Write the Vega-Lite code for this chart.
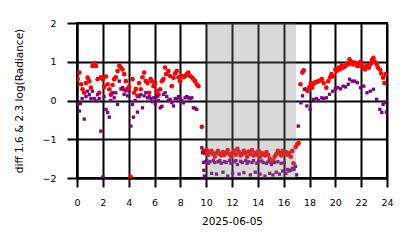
{
  "$schema": "https://vega.github.io/schema/vega-lite/v6.json",
  "autosize": "none",
  "width": 310,
  "height": 155,
  "padding": {"left": 77, "top": 23, "right": 27, "bottom": 70},
  "background": "white",
  "config": {
    "font": "DejaVu Sans",
    "view": {"stroke": "black", "strokeWidth": 2},
    "axis": {
      "zindex": 1,
      "grid": true,
      "gridColor": "black",
      "gridWidth": 2,
      "gridOpacity": 1,
      "domainColor": "black",
      "domainWidth": 2,
      "tickColor": "black",
      "tickWidth": 2,
      "labelColor": "black",
      "labelFontSize": 9.5,
      "labelOverlap": false,
      "titleColor": "black",
      "titleFontSize": 10.5,
      "titleFontWeight": "normal"
    }
  },
  "datasets": {
    "band": [{"hour": 10, "hour_end": 16.95}],
    "pts": [
      {"hour": 0.05, "value": 0.55, "series": "r"},
      {"hour": 0.18, "value": 0.72, "series": "r"},
      {"hour": 0.31, "value": 0.42, "series": "r"},
      {"hour": 0.43, "value": 0.29, "series": "r"},
      {"hour": 0.55, "value": 0.2, "series": "r"},
      {"hour": 0.7, "value": 0.45, "series": "r"},
      {"hour": 0.82, "value": 0.59, "series": "r"},
      {"hour": 0.95, "value": 0.5, "series": "r"},
      {"hour": 1.08, "value": 0.33, "series": "r"},
      {"hour": 1.2, "value": 0.89, "series": "r"},
      {"hour": 1.33, "value": 0.95, "series": "r"},
      {"hour": 1.47, "value": 0.89, "series": "r"},
      {"hour": 1.6, "value": 0.55, "series": "r"},
      {"hour": 1.72, "value": 0.2, "series": "r"},
      {"hour": 1.85, "value": 0.6, "series": "r"},
      {"hour": 2.0, "value": 0.55, "series": "r"},
      {"hour": 2.1, "value": 0.35, "series": "r"},
      {"hour": 2.24, "value": 0.62, "series": "r"},
      {"hour": 2.37, "value": 0.42, "series": "r"},
      {"hour": 2.5, "value": 0.29, "series": "r"},
      {"hour": 2.62, "value": 0.15, "series": "r"},
      {"hour": 2.75, "value": 0.4, "series": "r"},
      {"hour": 2.88, "value": 0.55, "series": "r"},
      {"hour": 3.0, "value": 0.6, "series": "r"},
      {"hour": 3.14, "value": 0.76, "series": "r"},
      {"hour": 3.27, "value": 0.9, "series": "r"},
      {"hour": 3.4, "value": 0.85, "series": "r"},
      {"hour": 3.52, "value": 0.8, "series": "r"},
      {"hour": 3.56, "value": 0.29, "series": "r"},
      {"hour": 3.65, "value": 0.68, "series": "r"},
      {"hour": 3.78, "value": 0.5, "series": "r"},
      {"hour": 3.9, "value": 0.3, "series": "r"},
      {"hour": 4.04, "value": 0.35, "series": "r"},
      {"hour": 4.15, "value": -1.97, "series": "r"},
      {"hour": 4.3, "value": 0.55, "series": "r"},
      {"hour": 4.43, "value": 0.2, "series": "r"},
      {"hour": 4.55, "value": 0.3, "series": "r"},
      {"hour": 4.68, "value": 0.12, "series": "r"},
      {"hour": 4.8, "value": 0.45, "series": "r"},
      {"hour": 4.94, "value": 0.29, "series": "r"},
      {"hour": 5.07, "value": 0.6, "series": "r"},
      {"hour": 5.2, "value": 0.72, "series": "r"},
      {"hour": 5.33, "value": 0.5, "series": "r"},
      {"hour": 5.46, "value": 0.45, "series": "r"},
      {"hour": 5.59, "value": 0.2, "series": "r"},
      {"hour": 5.7, "value": 0.55, "series": "r"},
      {"hour": 5.8, "value": 0.5, "series": "r"},
      {"hour": 5.92, "value": 0.37, "series": "r"},
      {"hour": 6.05, "value": 0.45, "series": "r"},
      {"hour": 6.18, "value": 0.24, "series": "r"},
      {"hour": 6.31, "value": 0.15, "series": "r"},
      {"hour": 6.44, "value": 0.29, "series": "r"},
      {"hour": 6.57, "value": 0.5, "series": "r"},
      {"hour": 6.69, "value": 0.55, "series": "r"},
      {"hour": 6.82, "value": 0.85, "series": "r"},
      {"hour": 6.9, "value": 0.68, "series": "r"},
      {"hour": 7.08, "value": 0.76, "series": "r"},
      {"hour": 7.21, "value": 0.63, "series": "r"},
      {"hour": 7.34, "value": 0.37, "series": "r"},
      {"hour": 7.47, "value": 0.59, "series": "r"},
      {"hour": 7.6, "value": 0.7, "series": "r"},
      {"hour": 7.73, "value": 0.76, "series": "r"},
      {"hour": 7.86, "value": 0.6, "series": "r"},
      {"hour": 7.98, "value": 0.5, "series": "r"},
      {"hour": 8.11, "value": 0.63, "series": "r"},
      {"hour": 8.24, "value": 0.6, "series": "r"},
      {"hour": 8.37, "value": 0.63, "series": "r"},
      {"hour": 8.5, "value": 0.68, "series": "r"},
      {"hour": 8.62, "value": 0.72, "series": "r"},
      {"hour": 8.76, "value": 0.63, "series": "r"},
      {"hour": 8.89, "value": 0.6, "series": "r"},
      {"hour": 9.01, "value": 0.55, "series": "r"},
      {"hour": 9.14, "value": 0.5, "series": "r"},
      {"hour": 9.27, "value": 0.42, "series": "r"},
      {"hour": 9.4, "value": 0.37, "series": "r"},
      {"hour": 9.66, "value": -0.68, "series": "r"},
      {"hour": 9.8, "value": -1.3, "series": "r"},
      {"hour": 9.92, "value": -1.35, "series": "r"},
      {"hour": 10.05, "value": -1.28, "series": "r"},
      {"hour": 10.17, "value": -1.4, "series": "r"},
      {"hour": 10.3, "value": -1.33, "series": "r"},
      {"hour": 10.42, "value": -1.3, "series": "r"},
      {"hour": 10.55, "value": -1.38, "series": "r"},
      {"hour": 10.67, "value": -1.45, "series": "r"},
      {"hour": 10.8, "value": -1.35, "series": "r"},
      {"hour": 10.92, "value": -1.3, "series": "r"},
      {"hour": 11.05, "value": -1.38, "series": "r"},
      {"hour": 11.17, "value": -1.42, "series": "r"},
      {"hour": 11.3, "value": -1.33, "series": "r"},
      {"hour": 11.42, "value": -1.4, "series": "r"},
      {"hour": 11.55, "value": -1.35, "series": "r"},
      {"hour": 11.67, "value": -1.28, "series": "r"},
      {"hour": 11.8, "value": -1.38, "series": "r"},
      {"hour": 11.92, "value": -1.45, "series": "r"},
      {"hour": 12.05, "value": -1.35, "series": "r"},
      {"hour": 12.17, "value": -1.3, "series": "r"},
      {"hour": 12.3, "value": -1.4, "series": "r"},
      {"hour": 12.42, "value": -1.25, "series": "r"},
      {"hour": 12.55, "value": -1.33, "series": "r"},
      {"hour": 12.67, "value": -1.42, "series": "r"},
      {"hour": 12.8, "value": -1.38, "series": "r"},
      {"hour": 12.92, "value": -1.3, "series": "r"},
      {"hour": 13.05, "value": -1.35, "series": "r"},
      {"hour": 13.17, "value": -1.45, "series": "r"},
      {"hour": 13.3, "value": -1.32, "series": "r"},
      {"hour": 13.42, "value": -1.38, "series": "r"},
      {"hour": 13.55, "value": -1.28, "series": "r"},
      {"hour": 13.67, "value": -1.42, "series": "r"},
      {"hour": 13.8, "value": -1.35, "series": "r"},
      {"hour": 13.92, "value": -1.4, "series": "r"},
      {"hour": 14.05, "value": -1.3, "series": "r"},
      {"hour": 14.17, "value": -1.45, "series": "r"},
      {"hour": 14.3, "value": -1.35, "series": "r"},
      {"hour": 14.42, "value": -1.38, "series": "r"},
      {"hour": 14.55, "value": -1.42, "series": "r"},
      {"hour": 14.67, "value": -1.33, "series": "r"},
      {"hour": 14.8, "value": -1.4, "series": "r"},
      {"hour": 14.92, "value": -1.5, "series": "r"},
      {"hour": 15.05, "value": -1.6, "series": "r"},
      {"hour": 15.17, "value": -1.55, "series": "r"},
      {"hour": 15.3, "value": -1.45, "series": "r"},
      {"hour": 15.42, "value": -1.38, "series": "r"},
      {"hour": 15.55, "value": -1.3, "series": "r"},
      {"hour": 15.67, "value": -1.35, "series": "r"},
      {"hour": 15.8, "value": -1.42, "series": "r"},
      {"hour": 15.92, "value": -1.3, "series": "r"},
      {"hour": 16.05, "value": -1.38, "series": "r"},
      {"hour": 16.17, "value": -1.33, "series": "r"},
      {"hour": 16.3, "value": -1.4, "series": "r"},
      {"hour": 16.42, "value": -1.35, "series": "r"},
      {"hour": 16.55, "value": -1.45, "series": "r"},
      {"hour": 16.67, "value": -1.3, "series": "r"},
      {"hour": 16.76, "value": -1.62, "series": "r"},
      {"hour": 16.92, "value": -1.2, "series": "r"},
      {"hour": 17.05, "value": -1.13, "series": "r"},
      {"hour": 17.15, "value": -1.1, "series": "r"},
      {"hour": 17.3, "value": 0.42, "series": "r"},
      {"hour": 17.45, "value": 0.72, "series": "r"},
      {"hour": 17.55, "value": 0.78, "series": "r"},
      {"hour": 17.7, "value": 0.29, "series": "r"},
      {"hour": 17.85, "value": 0.25, "series": "r"},
      {"hour": 18.0, "value": 0.35, "series": "r"},
      {"hour": 18.1, "value": 0.45, "series": "r"},
      {"hour": 18.2, "value": 0.33, "series": "r"},
      {"hour": 18.3, "value": 0.42, "series": "r"},
      {"hour": 18.4, "value": 0.46, "series": "r"},
      {"hour": 18.55, "value": 0.48, "series": "r"},
      {"hour": 18.7, "value": 0.5, "series": "r"},
      {"hour": 18.85, "value": 0.52, "series": "r"},
      {"hour": 18.95, "value": 0.55, "series": "r"},
      {"hour": 19.1, "value": 0.45, "series": "r"},
      {"hour": 19.3, "value": 0.33, "series": "r"},
      {"hour": 19.45, "value": 0.5, "series": "r"},
      {"hour": 19.6, "value": 0.6, "series": "r"},
      {"hour": 19.7, "value": 0.68, "series": "r"},
      {"hour": 19.85, "value": 0.62, "series": "r"},
      {"hour": 20.0, "value": 0.8, "series": "r"},
      {"hour": 20.1, "value": 0.76, "series": "r"},
      {"hour": 20.25, "value": 0.85, "series": "r"},
      {"hour": 20.35, "value": 0.8, "series": "r"},
      {"hour": 20.5, "value": 0.9, "series": "r"},
      {"hour": 20.6, "value": 0.85, "series": "r"},
      {"hour": 20.75, "value": 0.88, "series": "r"},
      {"hour": 20.9, "value": 0.95, "series": "r"},
      {"hour": 21.0, "value": 0.93, "series": "r"},
      {"hour": 21.1, "value": 1.06, "series": "r"},
      {"hour": 21.25, "value": 1.0, "series": "r"},
      {"hour": 21.35, "value": 0.93, "series": "r"},
      {"hour": 21.5, "value": 0.98, "series": "r"},
      {"hour": 21.6, "value": 0.95, "series": "r"},
      {"hour": 21.7, "value": 0.89, "series": "r"},
      {"hour": 21.85, "value": 0.9, "series": "r"},
      {"hour": 21.95, "value": 1.0, "series": "r"},
      {"hour": 22.05, "value": 0.93, "series": "r"},
      {"hour": 22.2, "value": 0.85, "series": "r"},
      {"hour": 22.3, "value": 0.8, "series": "r"},
      {"hour": 22.45, "value": 0.9, "series": "r"},
      {"hour": 22.6, "value": 0.85, "series": "r"},
      {"hour": 22.75, "value": 0.95, "series": "r"},
      {"hour": 22.85, "value": 1.05, "series": "r"},
      {"hour": 22.95, "value": 1.1, "series": "r"},
      {"hour": 23.05, "value": 1.0, "series": "r"},
      {"hour": 23.2, "value": 0.93, "series": "r"},
      {"hour": 23.3, "value": 0.85, "series": "r"},
      {"hour": 23.45, "value": 0.8, "series": "r"},
      {"hour": 23.55, "value": 0.7, "series": "r"},
      {"hour": 23.7, "value": 0.59, "series": "r"},
      {"hour": 23.8, "value": 0.45, "series": "r"},
      {"hour": 23.9, "value": 0.68, "series": "r"},
      {"hour": 0.05, "value": -0.1, "series": "p"},
      {"hour": 0.18, "value": -0.27, "series": "p"},
      {"hour": 0.26, "value": -0.08, "series": "p"},
      {"hour": 0.4, "value": 0.05, "series": "p"},
      {"hour": 0.56, "value": -0.48, "series": "p"},
      {"hour": 0.7, "value": 0.1, "series": "p"},
      {"hour": 0.82, "value": 0.24, "series": "p"},
      {"hour": 0.95, "value": 0.15, "series": "p"},
      {"hour": 1.08, "value": 0.05, "series": "p"},
      {"hour": 1.2, "value": 0.24, "series": "p"},
      {"hour": 1.33, "value": 0.05, "series": "p"},
      {"hour": 1.47, "value": -0.01, "series": "p"},
      {"hour": 1.6, "value": 0.15, "series": "p"},
      {"hour": 1.72, "value": 0.05, "series": "p"},
      {"hour": 1.85, "value": -0.79, "series": "p"},
      {"hour": 2.0, "value": -1.97, "series": "p"},
      {"hour": 2.1, "value": 0.1, "series": "p"},
      {"hour": 2.24, "value": -0.23, "series": "p"},
      {"hour": 2.37, "value": -0.31, "series": "p"},
      {"hour": 2.5, "value": -0.43, "series": "p"},
      {"hour": 2.62, "value": 0.0, "series": "p"},
      {"hour": 2.75, "value": 0.2, "series": "p"},
      {"hour": 2.88, "value": 0.07, "series": "p"},
      {"hour": 3.0, "value": 0.2, "series": "p"},
      {"hour": 3.14, "value": -0.1, "series": "p"},
      {"hour": 3.27, "value": 0.5, "series": "p"},
      {"hour": 3.4, "value": 0.3, "series": "p"},
      {"hour": 3.52, "value": 0.33, "series": "p"},
      {"hour": 3.65, "value": 0.16, "series": "p"},
      {"hour": 3.78, "value": 0.25, "series": "p"},
      {"hour": 3.91, "value": 0.12, "series": "p"},
      {"hour": 4.04, "value": 0.24, "series": "p"},
      {"hour": 4.17, "value": -0.66, "series": "p"},
      {"hour": 4.3, "value": -0.1, "series": "p"},
      {"hour": 4.37, "value": -0.43, "series": "p"},
      {"hour": 4.5, "value": 0.0, "series": "p"},
      {"hour": 4.68, "value": -0.3, "series": "p"},
      {"hour": 4.8, "value": 0.1, "series": "p"},
      {"hour": 4.94, "value": 0.15, "series": "p"},
      {"hour": 5.07, "value": -0.19, "series": "p"},
      {"hour": 5.2, "value": 0.12, "series": "p"},
      {"hour": 5.33, "value": 0.2, "series": "p"},
      {"hour": 5.46, "value": 0.07, "series": "p"},
      {"hour": 5.59, "value": 0.1, "series": "p"},
      {"hour": 5.72, "value": 0.05, "series": "p"},
      {"hour": 5.84, "value": -0.03, "series": "p"},
      {"hour": 5.95, "value": 0.07, "series": "p"},
      {"hour": 6.07, "value": -0.1, "series": "p"},
      {"hour": 6.2, "value": 0.1, "series": "p"},
      {"hour": 6.31, "value": 0.0, "series": "p"},
      {"hour": 6.44, "value": -0.19, "series": "p"},
      {"hour": 6.57, "value": -0.15, "series": "p"},
      {"hour": 6.69, "value": 0.16, "series": "p"},
      {"hour": 6.82, "value": 0.2, "series": "p"},
      {"hour": 6.95, "value": 0.1, "series": "p"},
      {"hour": 7.08, "value": 0.0, "series": "p"},
      {"hour": 7.21, "value": 0.03, "series": "p"},
      {"hour": 7.34, "value": -0.05, "series": "p"},
      {"hour": 7.47, "value": -0.14, "series": "p"},
      {"hour": 7.6, "value": 0.05, "series": "p"},
      {"hour": 7.73, "value": 0.05, "series": "p"},
      {"hour": 7.86, "value": 0.1, "series": "p"},
      {"hour": 7.98, "value": 0.05, "series": "p"},
      {"hour": 8.11, "value": 0.0, "series": "p"},
      {"hour": 8.24, "value": -0.06, "series": "p"},
      {"hour": 8.37, "value": 0.07, "series": "p"},
      {"hour": 8.5, "value": 0.1, "series": "p"},
      {"hour": 8.62, "value": 0.07, "series": "p"},
      {"hour": 8.76, "value": 0.05, "series": "p"},
      {"hour": 8.89, "value": 0.07, "series": "p"},
      {"hour": 9.01, "value": -0.19, "series": "p"},
      {"hour": 9.14, "value": -0.2, "series": "p"},
      {"hour": 9.27, "value": -0.23, "series": "p"},
      {"hour": 9.66, "value": -1.22, "series": "p"},
      {"hour": 9.72, "value": -1.35, "series": "p"},
      {"hour": 9.79, "value": -1.6, "series": "p"},
      {"hour": 9.82, "value": -1.8, "series": "p"},
      {"hour": 9.86, "value": -1.95, "series": "p"},
      {"hour": 9.95, "value": -1.58, "series": "p"},
      {"hour": 10.05, "value": -1.55, "series": "p"},
      {"hour": 10.17, "value": -1.62, "series": "p"},
      {"hour": 10.3, "value": -1.58, "series": "p"},
      {"hour": 10.42, "value": -1.88, "series": "p"},
      {"hour": 10.55, "value": -1.55, "series": "p"},
      {"hour": 10.67, "value": -1.6, "series": "p"},
      {"hour": 10.8, "value": -1.9, "series": "p"},
      {"hour": 10.92, "value": -1.58, "series": "p"},
      {"hour": 11.05, "value": -1.55, "series": "p"},
      {"hour": 11.17, "value": -1.62, "series": "p"},
      {"hour": 11.3, "value": -1.85, "series": "p"},
      {"hour": 11.42, "value": -1.58, "series": "p"},
      {"hour": 11.55, "value": -1.6, "series": "p"},
      {"hour": 11.67, "value": -1.95, "series": "p"},
      {"hour": 11.8, "value": -1.55, "series": "p"},
      {"hour": 11.92, "value": -1.62, "series": "p"},
      {"hour": 12.05, "value": -1.88, "series": "p"},
      {"hour": 12.17, "value": -1.58, "series": "p"},
      {"hour": 12.3, "value": -1.55, "series": "p"},
      {"hour": 12.42, "value": -1.65, "series": "p"},
      {"hour": 12.55, "value": -1.9, "series": "p"},
      {"hour": 12.67, "value": -1.57, "series": "p"},
      {"hour": 12.8, "value": -1.6, "series": "p"},
      {"hour": 12.92, "value": -1.86, "series": "p"},
      {"hour": 13.05, "value": -1.55, "series": "p"},
      {"hour": 13.17, "value": -1.62, "series": "p"},
      {"hour": 13.3, "value": -1.58, "series": "p"},
      {"hour": 13.42, "value": -1.92, "series": "p"},
      {"hour": 13.55, "value": -1.6, "series": "p"},
      {"hour": 13.67, "value": -1.55, "series": "p"},
      {"hour": 13.8, "value": -1.85, "series": "p"},
      {"hour": 13.92, "value": -1.62, "series": "p"},
      {"hour": 14.05, "value": -1.58, "series": "p"},
      {"hour": 14.17, "value": -1.9, "series": "p"},
      {"hour": 14.3, "value": -1.56, "series": "p"},
      {"hour": 14.42, "value": -1.6, "series": "p"},
      {"hour": 14.55, "value": -1.95, "series": "p"},
      {"hour": 14.67, "value": -1.62, "series": "p"},
      {"hour": 14.8, "value": -1.58, "series": "p"},
      {"hour": 14.92, "value": -1.88, "series": "p"},
      {"hour": 15.05, "value": -1.65, "series": "p"},
      {"hour": 15.17, "value": -1.92, "series": "p"},
      {"hour": 15.3, "value": -1.6, "series": "p"},
      {"hour": 15.42, "value": -1.85, "series": "p"},
      {"hour": 15.55, "value": -1.58, "series": "p"},
      {"hour": 15.67, "value": -1.9, "series": "p"},
      {"hour": 15.8, "value": -1.62, "series": "p"},
      {"hour": 15.92, "value": -1.82, "series": "p"},
      {"hour": 16.05, "value": -1.6, "series": "p"},
      {"hour": 16.17, "value": -1.88, "series": "p"},
      {"hour": 16.3, "value": -1.78, "series": "p"},
      {"hour": 16.42, "value": -1.82, "series": "p"},
      {"hour": 16.55, "value": -1.8, "series": "p"},
      {"hour": 16.67, "value": -1.75, "series": "p"},
      {"hour": 16.8, "value": -1.78, "series": "p"},
      {"hour": 16.9, "value": -1.7, "series": "p"},
      {"hour": 17.0, "value": -1.92, "series": "p"},
      {"hour": 17.13, "value": -0.66, "series": "p"},
      {"hour": 17.33, "value": -0.06, "series": "p"},
      {"hour": 17.46, "value": 0.12, "series": "p"},
      {"hour": 17.6, "value": 0.29, "series": "p"},
      {"hour": 17.8, "value": -0.14, "series": "p"},
      {"hour": 18.05, "value": -0.23, "series": "p"},
      {"hour": 18.3, "value": 0.03, "series": "p"},
      {"hour": 18.55, "value": 0.05, "series": "p"},
      {"hour": 18.7, "value": 0.0, "series": "p"},
      {"hour": 18.95, "value": 0.07, "series": "p"},
      {"hour": 19.1, "value": 0.05, "series": "p"},
      {"hour": 19.3, "value": 0.07, "series": "p"},
      {"hour": 19.55, "value": 0.16, "series": "p"},
      {"hour": 19.8, "value": 0.24, "series": "p"},
      {"hour": 20.0, "value": 0.3, "series": "p"},
      {"hour": 20.2, "value": 0.33, "series": "p"},
      {"hour": 20.4, "value": 0.3, "series": "p"},
      {"hour": 20.6, "value": 0.37, "series": "p"},
      {"hour": 20.8, "value": 0.35, "series": "p"},
      {"hour": 21.0, "value": 0.42, "series": "p"},
      {"hour": 21.1, "value": 0.55, "series": "p"},
      {"hour": 21.3, "value": 0.5, "series": "p"},
      {"hour": 21.5, "value": 0.5, "series": "p"},
      {"hour": 21.7, "value": 0.46, "series": "p"},
      {"hour": 21.95, "value": 0.33, "series": "p"},
      {"hour": 22.2, "value": 0.37, "series": "p"},
      {"hour": 22.45, "value": 0.2, "series": "p"},
      {"hour": 22.7, "value": 0.24, "series": "p"},
      {"hour": 22.95, "value": 0.29, "series": "p"},
      {"hour": 23.2, "value": 0.03, "series": "p"},
      {"hour": 23.45, "value": -0.23, "series": "p"},
      {"hour": 23.6, "value": -0.31, "series": "p"},
      {"hour": 23.7, "value": -0.1, "series": "p"},
      {"hour": 23.85, "value": -0.05, "series": "p"},
      {"hour": 23.95, "value": -0.3, "series": "p"}
    ]
  },
  "encoding": {
    "x": {"field": "hour", "type": "quantitative", "scale": {"domain": [0, 24], "nice": false, "zero": false}, "axis": {"values": [0, 2, 4, 6, 8, 10, 12, 14, 16, 18, 20, 22, 24], "title": "2025-06-05", "tickSize": 9, "labelPadding": 10, "titlePadding": 10, "labelFlush": false}},
    "y": {"field": "value", "type": "quantitative", "scale": {"domain": [-2, 2], "nice": false}, "axis": {"values": [-2, -1, 0, 1, 2], "title": "diff 1.6 & 2.3  log(Radiance)", "tickSize": 10, "labelPadding": 11, "titlePadding": 17, "labelFlush": false}}
  },
  "layer": [
    {
      "data": {"name": "pts"},
      "transform": [{"filter": "datum.series === 'r'"}],
      "mark": {"type": "point", "shape": "circle", "filled": true, "color": "#ff0000", "opacity": 1, "size": 22, "clip": true}
    },
    {
      "data": {"name": "pts"},
      "transform": [{"filter": "datum.series === 'p'"}],
      "mark": {"type": "point", "shape": "square", "filled": true, "color": "#800080", "opacity": 1, "size": 11, "clip": true}
    },
    {
      "data": {"name": "band"},
      "mark": {"type": "rect", "color": "#808080", "opacity": 0.3},
      "encoding": {
        "x2": {"field": "hour_end"},
        "y": {"value": 0},
        "y2": {"value": "height"}
      }
    }
  ]
}
